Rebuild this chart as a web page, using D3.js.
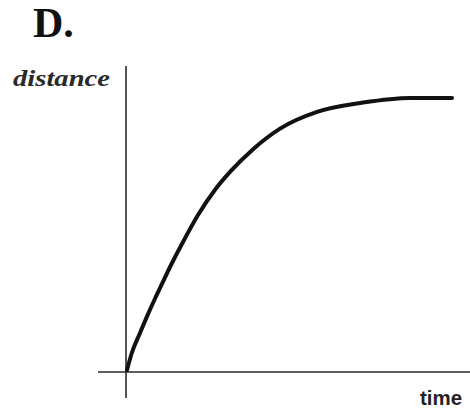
<!DOCTYPE html>
<html><head><meta charset="utf-8">
<script src="https://cdn.jsdelivr.net/npm/d3@7"></script>
<style>html,body{margin:0;padding:0;background:#fff;}svg{display:block;}</style>
</head><body>
<script>
// Data (arbitrary units: time 0-100, distance 0-100)
const time =     [0, 1.5, 4.0,  6.5,  8.6,  10.8, 13.2, 16.9, 21.8, 27.1, 31.7, 38.8, 47.1, 58.5, 72.6, 87.1, 100];
const distance = [0, 6.3, 13.5, 20.5, 26.0, 31.5, 37.5, 46.0, 56.5, 65.8, 72.3, 80.6, 88.1, 94.2, 97.6, 99.3, 99.3];
const panelLabel = "D.";
const yLabel = "distance";
const xLabel = "time";

const W = 470, H = 411;
const svg = d3.select("body").append("svg").attr("width", W).attr("height", H);

const x = d3.scaleLinear().domain([0, 100]).range([127, 452]);
const y = d3.scaleLinear().domain([0, 100]).range([370, 96]);

// axes
svg.append("line").attr("x1", 98).attr("x2", 470).attr("y1", 372).attr("y2", 372)
  .attr("stroke", "#2a2a2a").attr("stroke-width", 1.6);
svg.append("line").attr("x1", 126).attr("x2", 126).attr("y1", 66).attr("y2", 398)
  .attr("stroke", "#2a2a2a").attr("stroke-width", 1.6);

// curve
const pts = time.map((t, i) => [t, distance[i]]);
svg.append("path").datum(pts)
  .attr("d", d3.line().x(d => x(d[0])).y(d => y(d[1])).curve(d3.curveMonotoneX))
  .attr("fill", "none").attr("stroke", "#111").attr("stroke-width", 4)
  .attr("stroke-linejoin", "round").attr("stroke-linecap", "round");

// text
svg.append("text").attr("x", 33).attr("y", 37).text(panelLabel)
  .attr("font-family", "Liberation Serif").attr("font-weight", "bold")
  .attr("font-size", 42).attr("fill", "#111");
svg.append("text").attr("x", 13).attr("y", 86).text(yLabel)
  .attr("font-family", "Liberation Serif").attr("font-weight", "bold").attr("font-style", "italic")
  .attr("font-size", 24).attr("textLength", 97).attr("lengthAdjust", "spacingAndGlyphs").attr("fill", "#2a2a2a");
svg.append("text").attr("x", 420).attr("y", 405).text(xLabel)
  .attr("font-family", "Liberation Sans").attr("font-weight", "bold")
  .attr("font-size", 20).attr("textLength", 42).attr("lengthAdjust", "spacingAndGlyphs").attr("fill", "#222");
</script>
</body></html>
